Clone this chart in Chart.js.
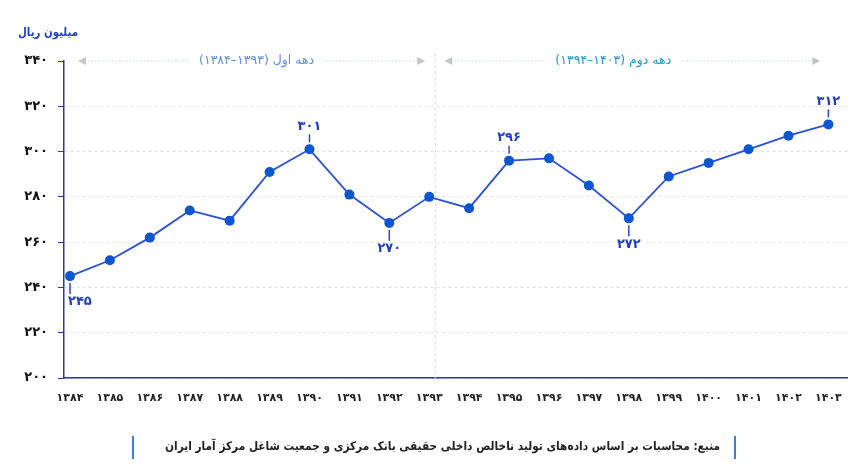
<!DOCTYPE html>
<html lang="fa">
<head>
<meta charset="utf-8">
<script src="https://cdn.jsdelivr.net/npm/chart.js@4.4.1/dist/chart.umd.min.js"></script>
<style>
    html, body { margin: 0; padding: 0; background: #fff; }
    #wrap { width: 856px; height: 465px; position: relative; }
</style>
</head>
<body>
<div id="wrap"><canvas id="myChart"></canvas></div>
<script>
// Données
const years = [1384, 1385, 1386, 1387, 1388, 1389, 1390, 1391, 1392, 1393,
               1394, 1395, 1396, 1397, 1398, 1399, 1400, 1401, 1402, 1403];
const values = [245, 252, 262, 274, 269.5, 291, 301, 281, 268.5, 280,
                275, 296, 297, 285, 270.5, 289, 295, 301, 307, 312];
const yTicks = [200, 220, 240, 260, 280, 300, 320, 340];

// Valeurs annotées (texte imprimé sur le graphique)
const labelledYears = [1384, 1390, 1392, 1395, 1398, 1403];
const labelTexts = [245, 301, 270, 296, 272, 312];
const labelSides = ['below', 'above', 'below', 'above', 'below', 'above'];

// Décennies
const decadeStart = [1384, 1394];
const decadeEnd = [1393, 1403];
const decadeNames = ['دهه اول', 'دهه دوم'];
const decadeColors = ['#5b8ee2', '#1a9bc6'];

const yUnit = 'میلیون ریال';
const source = 'منبع: محاسبات بر اساس داده‌های تولید ناخالص داخلی حقیقی بانک مرکزی و جمعیت شاغل مرکز آمار ایران';

const FONT = '"DejaVu Sans", sans-serif';

// Chiffres persans
function fa(n) {
    return String(n).replace(/\d/g, d => '۰۱۲۳۴۵۶۷۸۹'[d]);
}

// Points
let points = [];
for (let i = 0; i < years.length; i++) {
    points.push({ x: years[i], y: values[i] });
}

// Plugin : décennies, séparateur, annotations, titre, source
const extras = {
    id: 'extras',
    beforeDatasetsDraw(chart) {
        const ctx = chart.ctx;
        const area = chart.chartArea;
        const xs = chart.scales.x;
        const divX = xs.getPixelForValue(1393) + 6;

        // séparateur vertical
        ctx.save();
        ctx.strokeStyle = '#d8d8d8';
        ctx.lineWidth = 1;
        ctx.setLineDash([3, 3]);
        ctx.beginPath();
        ctx.moveTo(divX, area.top - 8);
        ctx.lineTo(divX, area.bottom);
        ctx.stroke();
        ctx.restore();

        // flèches des décennies
        const y = area.top;
        const offsets = [5, -19];
        for (let i = 0; i < decadeStart.length; i++) {
            let x1, x2;
            if (i === 0) {
                x1 = xs.getPixelForValue(decadeStart[i]) + 8;
                x2 = divX - 10;
            } else {
                x1 = divX + 9;
                x2 = xs.getPixelForValue(decadeEnd[i]) - 8;
            }
            // ordre logique inversé à cause du bidi (chiffres persans = AN)
            const text = decadeNames[i] + ' (' + fa(decadeEnd[i]) + '–' + fa(decadeStart[i]) + ')';
            ctx.save();
            ctx.font = '12.5px ' + FONT;
            ctx.direction = 'rtl';
            const tw = ctx.measureText(text).width;
            const cx = (x1 + x2) / 2 + offsets[i];

            ctx.strokeStyle = '#cddbec';
            ctx.lineWidth = 1.2;
            ctx.setLineDash([2, 1.5]);
            ctx.beginPath();
            ctx.moveTo(x1 + 6, y);
            ctx.lineTo(cx - tw / 2 - 11, y);
            ctx.moveTo(cx + tw / 2 + 11, y);
            ctx.lineTo(x2 - 6, y);
            ctx.stroke();
            ctx.setLineDash([]);

            ctx.fillStyle = '#c6c6c6';
            ctx.beginPath();
            ctx.moveTo(x1, y);
            ctx.lineTo(x1 + 8, y - 4);
            ctx.lineTo(x1 + 8, y + 4);
            ctx.closePath();
            ctx.fill();
            ctx.beginPath();
            ctx.moveTo(x2, y);
            ctx.lineTo(x2 - 8, y - 4);
            ctx.lineTo(x2 - 8, y + 4);
            ctx.closePath();
            ctx.fill();

            ctx.fillStyle = decadeColors[i];
            ctx.textAlign = 'center';
            ctx.textBaseline = 'middle';
            ctx.fillText(text, cx, y);
            ctx.restore();
        }
    },
    afterDatasetsDraw(chart) {
        const ctx = chart.ctx;
        const meta = chart.getDatasetMeta(0);

        // annotations des valeurs
        ctx.save();
        ctx.strokeStyle = '#2a48c8';
        ctx.fillStyle = '#1f3fbf';
        ctx.lineWidth = 1.5;
        ctx.font = 'bold 13px ' + FONT;
        ctx.textBaseline = 'middle';
        for (let i = 0; i < labelledYears.length; i++) {
            const idx = years.indexOf(labelledYears[i]);
            const pt = meta.data[idx];
            const below = labelSides[i] === 'below';
            const s = below ? 1 : -1;
            ctx.beginPath();
            ctx.moveTo(pt.x, pt.y + s * 7);
            ctx.lineTo(pt.x, pt.y + s * (below ? 18 : 15));
            ctx.stroke();
            ctx.textAlign = i === 0 ? 'left' : 'center';
            ctx.fillText(fa(labelTexts[i]), i === 0 ? pt.x - 2 : pt.x, pt.y + s * (below ? 26 : 23));
        }
        ctx.restore();

        // titre de l'axe
        ctx.save();
        ctx.direction = 'rtl';
        ctx.font = 'bold 12px ' + FONT;
        ctx.fillStyle = '#2340c8';
        ctx.textAlign = 'right';
        ctx.textBaseline = 'middle';
        ctx.fillText(yUnit, 78, 33, 60);
        ctx.restore();

        // source
        ctx.save();
        ctx.fillStyle = '#3b7fd6';
        ctx.fillRect(132, 436, 2, 23);
        ctx.fillRect(734, 436, 2, 23);
        ctx.direction = 'rtl';
        ctx.font = 'bold 12px ' + FONT;
        ctx.fillStyle = '#222';
        ctx.textAlign = 'right';
        ctx.textBaseline = 'middle';
        ctx.fillText(source, 720, 447, 555);
        ctx.restore();
    }
};

const ctx = document.getElementById('myChart');

new Chart(ctx, {
    type: 'line',
    data: {
        datasets: [{
            data: points,
            borderColor: '#2b4fd6',
            borderWidth: 1.8,
            pointRadius: 5,
            pointHoverRadius: 5,
            pointBackgroundColor: '#0b57d0',
            pointBorderWidth: 0,
            tension: 0
        }]
    },
    options: {
        responsive: true,
        maintainAspectRatio: false,
        animation: false,
        layout: {
            padding: { top: 61, left: 0, right: 8, bottom: 47 }
        },
        plugins: {
            legend: { display: false },
            tooltip: { enabled: false }
        },
        scales: {
            x: {
                type: 'linear',
                min: 1383.85,
                max: 1403.48,
                afterBuildTicks: function(scale) {
                    scale.ticks = years.map(v => ({ value: v }));
                },
                afterFit: function(scale) {
                    scale.height = 40;
                },
                grid: { display: false, drawTicks: false },
                border: { display: true, color: '#2e3a8c', width: 1.5 },
                ticks: {
                    padding: 14,
                    maxRotation: 0,
                    autoSkip: false,
                    color: '#222',
                    font: { family: FONT, size: 11, weight: 'bold' },
                    callback: function(value) {
                        return fa(value);
                    }
                }
            },
            y: {
                min: 200,
                max: 340,
                afterBuildTicks: function(scale) {
                    scale.ticks = yTicks.map(v => ({ value: v }));
                },
                afterFit: function(scale) {
                    scale.width = 64;
                },
                grid: {
                    color: function(c) {
                        return c.tick && c.tick.value === 340 ? 'rgba(0,0,0,0)' : '#e2e2e2';
                    },
                    lineWidth: 1,
                    tickLength: 6,
                    tickColor: '#2e3a8c',
                    tickBorderDash: []
                },
                border: { display: true, color: '#2e3a8c', width: 1.5, dash: [3, 3] },
                ticks: {
                    padding: 10,
                    color: '#111',
                    font: { family: FONT, size: 13, weight: 'bold' },
                    callback: function(value) {
                        return fa(value);
                    }
                }
            }
        }
    },
    plugins: [extras]
});
</script>
</body>
</html>
